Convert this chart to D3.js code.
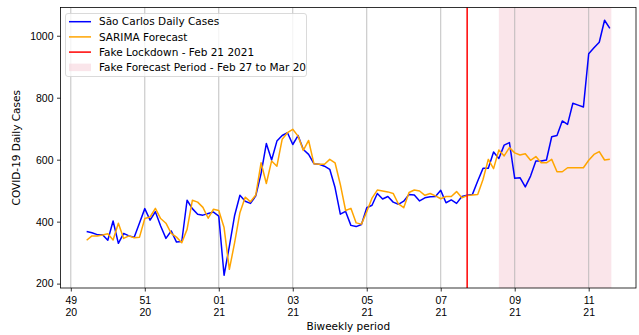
<!DOCTYPE html>
<html>
<head>
<meta charset="utf-8">
<script src="https://cdn.jsdelivr.net/npm/d3@7"></script>
<style>
  body { margin: 0; background: #fff; }
  svg { font-family: "DejaVu Sans", sans-serif; }
</style>
</head>
<body>
<svg id="chart" width="639" height="335"></svg>
<script>
// daily values, starting 2020-12-11
const startDate = "2020-12-11";

const cases = [
  368, 364, 358, 358, 340, 402, 330, 362, 354, 350,
  396, 442, 405, 432, 386, 346, 370, 334, 336, 469,
  442, 424, 421, 426, 431, 418, 227, 320, 420, 485,
  466, 459, 483, 555, 652, 599, 660, 678, 687, 649,
  678, 633, 617, 587, 585, 579, 569, 510, 424, 433,
  388, 384, 391, 445, 453, 491, 473, 481, 463, 456,
  466, 488, 486, 467, 477, 480, 481, 501, 461, 470,
  459, 481, 485, 488, 531, 572, 572, 625, 604, 647,
  655, 540, 542, 512, 547, 596, 596, 599, 674, 678,
  725, 714, 782, 776, 770, 942, 961, 979, 1050, 1024
];

const forecast = [
  340, 354, 354, 357, 361, 341, 395, 346, 354, 348,
  350, 410, 415, 443, 410, 395, 362, 350, 332, 375,
  469, 463, 446, 411, 440, 436, 381, 246, 332, 429,
  479, 464, 486, 590, 523, 596, 579, 666, 687, 698,
  676, 630, 662, 587, 585, 585, 601, 590, 520, 436,
  443, 396, 392, 432, 476, 502, 499, 496, 491, 457,
  445, 494, 502, 499, 485, 491, 483, 474, 481, 481,
  497, 477, 484, 486, 488, 536, 601, 571, 631, 612,
  639, 622, 615, 619, 598, 610, 590, 590, 601, 561,
  561, 574, 574, 574, 574, 598, 617, 626, 599, 601
];

const tickDates = ["2020-12-08", "2020-12-22", "2021-01-05", "2021-01-19",
  "2021-02-02", "2021-02-16", "2021-03-02", "2021-03-16"];
const yTicks = [200, 400, 600, 800, 1000];

const lockdownDate = "2021-02-21";
const forecastStart = "2021-02-27";
const forecastEnd = "2021-03-20";

const legendItems = [
  { label: "São Carlos Daily Cases", kind: "line", color: "blue" },
  { label: "SARIMA Forecast", kind: "line", color: "orange" },
  { label: "Fake Lockdown - Feb 21 2021", kind: "line", color: "red" },
  { label: "Fake Forecast Period - Feb 27 to Mar 20", kind: "patch", color: "pink" }
];

const parse = d3.utcParse("%Y-%m-%d");
const dates = cases.map((_, i) => d3.utcDay.offset(parse(startDate), i));

const width = 639;
const height = 335;
const margin = { top: 7.5, right: 3, bottom: 47, left: 60.5 };

const svg = d3.select("#chart");

const xExt = d3.extent(dates);
const xPad = (xExt[1] - xExt[0]) * 0.05;
const x = d3.scaleUtc()
  .domain([new Date(+xExt[0] - xPad), new Date(+xExt[1] + xPad)])
  .range([margin.left, width - margin.right]);

const yMin = d3.min([...cases, ...forecast]);
const yMax = d3.max([...cases, ...forecast]);
const yPad = (yMax - yMin) * 0.05;
const y = d3.scaleLinear()
  .domain([yMin - yPad, yMax + yPad])
  .range([height - margin.bottom, margin.top]);

// forecast period span
svg.append("rect")
  .attr("x", x(parse(forecastStart)))
  .attr("y", margin.top)
  .attr("width", x(parse(forecastEnd)) - x(parse(forecastStart)) + 1.5)
  .attr("height", y.range()[0] - margin.top)
  .attr("fill", "#f6d3dc")
  .attr("opacity", 0.6);

// vertical grid
svg.append("g")
  .selectAll("line")
  .data(tickDates.map(parse))
  .join("line")
  .attr("x1", (d) => x(d))
  .attr("x2", (d) => x(d))
  .attr("y1", margin.top)
  .attr("y2", height - margin.bottom)
  .attr("stroke", "#b0b0b0")
  .attr("stroke-width", 0.8);

const line = (vals) => d3.line()
  .x((d, i) => x(dates[i]))
  .y((d) => y(d))(vals);

svg.append("path")
  .attr("d", line(cases))
  .attr("fill", "none")
  .attr("stroke", "blue")
  .attr("stroke-width", 1.5)
  .attr("stroke-linejoin", "round");

svg.append("path")
  .attr("d", line(forecast))
  .attr("fill", "none")
  .attr("stroke", "orange")
  .attr("stroke-width", 1.5)
  .attr("stroke-linejoin", "round");

svg.append("line")
  .attr("x1", x(parse(lockdownDate)))
  .attr("x2", x(parse(lockdownDate)))
  .attr("y1", margin.top)
  .attr("y2", height - margin.bottom)
  .attr("stroke", "red")
  .attr("stroke-width", 1.5);

// axes
const fmtW = d3.utcFormat("%W");
const fmtY = d3.utcFormat("%y");

const xAxis = svg.append("g")
  .attr("transform", `translate(0,${height - margin.bottom})`)
  .call(d3.axisBottom(x).tickValues(tickDates.map(parse)).tickSize(3.5).tickPadding(3).tickFormat(""));
xAxis.selectAll(".tick").each(function (d) {
  const t = d3.select(this).append("text")
    .attr("fill", "#000")
    .attr("text-anchor", "middle")
    .attr("font-size", 10.5);
  t.append("tspan").attr("x", 0).attr("y", 16).text(fmtW(d));
  t.append("tspan").attr("x", 0).attr("y", 28).text(fmtY(d));
});

const yAxis = svg.append("g")
  .attr("transform", `translate(${margin.left},0)`)
  .call(d3.axisLeft(y).tickValues(yTicks).tickFormat(d3.format("d")).tickSize(3.5).tickPadding(3.5));
yAxis.selectAll("text").attr("font-size", 10.5).attr("fill", "#000");

svg.selectAll(".domain").remove();
svg.selectAll(".tick line").attr("stroke", "#000").attr("stroke-width", 0.8);

// frame
svg.append("rect")
  .attr("x", margin.left)
  .attr("y", margin.top)
  .attr("width", width - margin.right - margin.left)
  .attr("height", height - margin.bottom - margin.top)
  .attr("fill", "none")
  .attr("stroke", "#000")
  .attr("stroke-width", 0.8);

svg.append("text")
  .attr("x", (margin.left + width - margin.right) / 2)
  .attr("y", 330)
  .attr("text-anchor", "middle")
  .attr("font-size", 10.5)
  .text("Biweekly period");

svg.append("text")
  .attr("transform", `translate(20,${(margin.top + height - margin.bottom) / 2}) rotate(-90)`)
  .attr("text-anchor", "middle")
  .attr("font-size", 10.5)
  .text("COVID-19 Daily Cases");

// legend
const lg = svg.append("g").attr("transform", "translate(65.5,13.5)");
lg.append("rect")
  .attr("width", 241)
  .attr("height", 63)
  .attr("rx", 2.5)
  .attr("fill", "#fff")
  .attr("fill-opacity", 0.8)
  .attr("stroke", "#d0d0d0")
  .attr("stroke-width", 0.8);

legendItems.forEach((item, i) => {
  const cy = 8.2 + i * 15.2;
  if (item.kind === "line") {
    lg.append("line")
      .attr("x1", 3.5).attr("x2", 25.5)
      .attr("y1", cy).attr("y2", cy)
      .attr("stroke", item.color)
      .attr("stroke-width", 1.5);
  } else {
    lg.append("rect")
      .attr("x", 3.5).attr("y", cy - 3.7)
      .attr("width", 22).attr("height", 7.5)
      .attr("fill", "#f6d3dc")
      .attr("opacity", 0.6);
  }
  lg.append("text")
    .attr("x", 33.5)
    .attr("y", cy)
    .attr("dy", "0.36em")
    .attr("font-size", 10.5)
    .text(item.label);
});
</script>
</body>
</html>
